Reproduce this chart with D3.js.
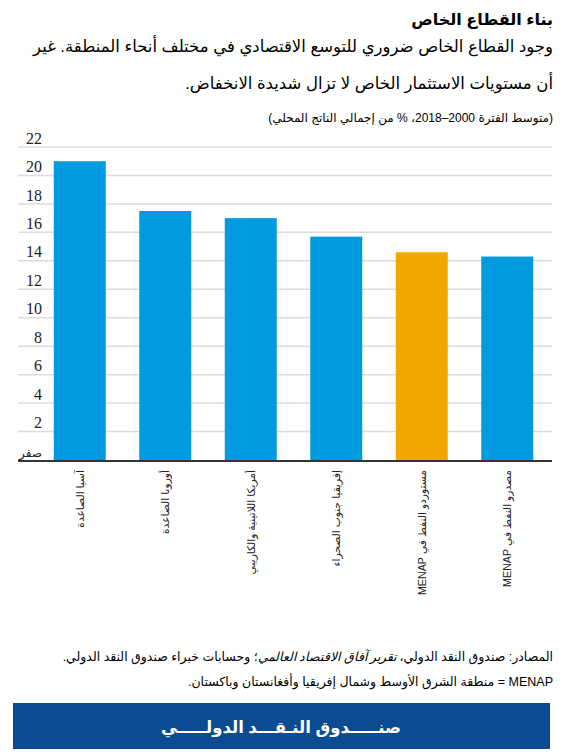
<!DOCTYPE html>
<html lang="ar">
<head>
<meta charset="utf-8">
<script src="https://cdn.jsdelivr.net/npm/d3@7"></script>
<style>
  html, body { margin: 0; padding: 0; background: #fff; }
  svg { display: block; }
</style>
</head>
<body>
<svg id="chart" width="564" height="756"></svg>
<script>
// data
const regions = ["آسيا الصاعدة", "أوروبا الصاعدة", "أمريكا اللاتينية والكاريبي", "إفريقيا جنوب الصحراء", "مستوردو النفط في MENAP", "مصدرو النفط في MENAP"];
const investment = [21.0, 17.5, 17.0, 15.7, 14.6, 14.3];
const highlighted = [false, false, false, false, true, false];
const yTicks = [0, 2, 4, 6, 8, 10, 12, 14, 16, 18, 20, 22];
const yTickLabels = ["صفر", "2", "4", "6", "8", "10", "12", "14", "16", "18", "20", "22"];

const title = "بناء القطاع الخاص";
const subtitle = ["وجود القطاع الخاص ضروري للتوسع الاقتصادي في مختلف أنحاء المنطقة. غير", "أن مستويات الاستثمار الخاص لا تزال شديدة الانخفاض."];
const unitNote = "(متوسط الفترة 2000–2018، % من إجمالي الناتج المحلي)";
const footer = "صنـــــدوق النـقـــد الدولـــــي";

const svg = d3.select("#chart");
const W = 564;
const arabicFont = "'Liberation Sans', 'DejaVu Sans', Arial, sans-serif";

// header texts
svg.append("text").attr("x", 553).attr("y", 25)
  .attr("direction", "rtl").attr("text-anchor", "start")
  .style("font-family", arabicFont).style("font-size", "16px").style("font-weight", "bold")
  .text(title);

svg.selectAll("text.sub").data(subtitle).join("text").attr("class", "sub")
  .attr("x", 553).attr("y", (d, i) => 52 + i * 37)
  .attr("direction", "rtl").attr("text-anchor", "start")
  .style("font-family", arabicFont).style("font-size", "16.5px")
  .text(d => d);

svg.append("text").attr("x", 553).attr("y", 122)
  .attr("direction", "rtl").attr("text-anchor", "start")
  .style("font-family", arabicFont).style("font-size", "12px")
  .text(unitNote);

// scales
const x = d3.scaleBand().domain(regions).range([37, 550]).paddingInner(0.392).paddingOuter(0.196);
const y = d3.scaleLinear().domain([0, 22]).range([460, 147]);

// gridlines
svg.append("g").selectAll("line").data(yTicks.slice(1)).join("line")
  .attr("x1", 18).attr("x2", 552)
  .attr("y1", d => y(d)).attr("y2", d => y(d))
  .attr("stroke", "#dcdcdc").attr("stroke-width", 1.5);

// y axis labels
const yAxis = d3.axisLeft(y).tickValues(yTicks).tickSize(0)
  .tickFormat((d, i) => yTickLabels[i]);
const gy = svg.append("g").attr("transform", "translate(42,-9)").call(yAxis);
gy.select(".domain").remove();
gy.selectAll("text")
  .style("font-family", "'Liberation Serif', 'Times New Roman', serif")
  .style("font-size", "16px").attr("fill", "#222").attr("x", 0);
gy.selectAll(".tick").filter(d => d === 0).select("text")
  .style("font-family", arabicFont).style("font-size", "12px").attr("dy", "0.45em");

// bars
svg.append("g").selectAll("rect").data(regions).join("rect")
  .attr("x", d => x(d))
  .attr("y", (d, i) => y(investment[i]))
  .attr("width", x.bandwidth())
  .attr("height", (d, i) => y(0) - y(investment[i]))
  .attr("fill", (d, i) => highlighted[i] ? "#f0a800" : "#009bde");

// baseline
svg.append("line").attr("x1", 18).attr("x2", 552).attr("y1", y(0) + 1).attr("y2", y(0) + 1)
  .attr("stroke", "#333").attr("stroke-width", 2);

// category labels, rotated
const xAxis = d3.axisBottom(x).tickSize(0);
const gx = svg.append("g").attr("transform", `translate(0,${y(0) + 2})`).call(xAxis);
gx.select(".domain").remove();
gx.selectAll("text")
  .attr("transform", "rotate(-90)")
  .attr("x", -8).attr("y", 0).attr("dy", "0.35em")
  .attr("direction", "rtl").attr("text-anchor", "start")
  .style("font-family", arabicFont).style("font-size", "10.7px").attr("fill", "#222");

// sources
const src = svg.append("text").attr("x", 553).attr("y", 661)
  .attr("direction", "rtl").attr("text-anchor", "start")
  .style("font-family", arabicFont).style("font-size", "12.5px");
src.append("tspan").text("المصادر: صندوق النقد الدولي، ");
src.append("tspan").style("font-style", "italic").text("تقرير آفاق الاقتصاد العالمي");
src.append("tspan").text("؛ وحسابات خبراء صندوق النقد الدولي.");

svg.append("text").attr("x", 553).attr("y", 686)
  .attr("direction", "rtl").attr("text-anchor", "start")
  .style("font-family", arabicFont).style("font-size", "12.5px")
  .text("MENAP = منطقة الشرق الأوسط وشمال إفريقيا وأفغانستان وباكستان.");

// footer band
svg.append("rect").attr("x", 13).attr("y", 703).attr("width", 537).attr("height", 46)
  .attr("fill", "#0b4b91");
svg.append("text").attr("x", W / 2 - 1).attr("y", 733)
  .attr("text-anchor", "middle")
  .style("font-family", arabicFont).style("font-size", "16.5px").style("font-weight", "bold")
  .attr("fill", "#fff")
  .text(footer);
</script>
</body>
</html>
